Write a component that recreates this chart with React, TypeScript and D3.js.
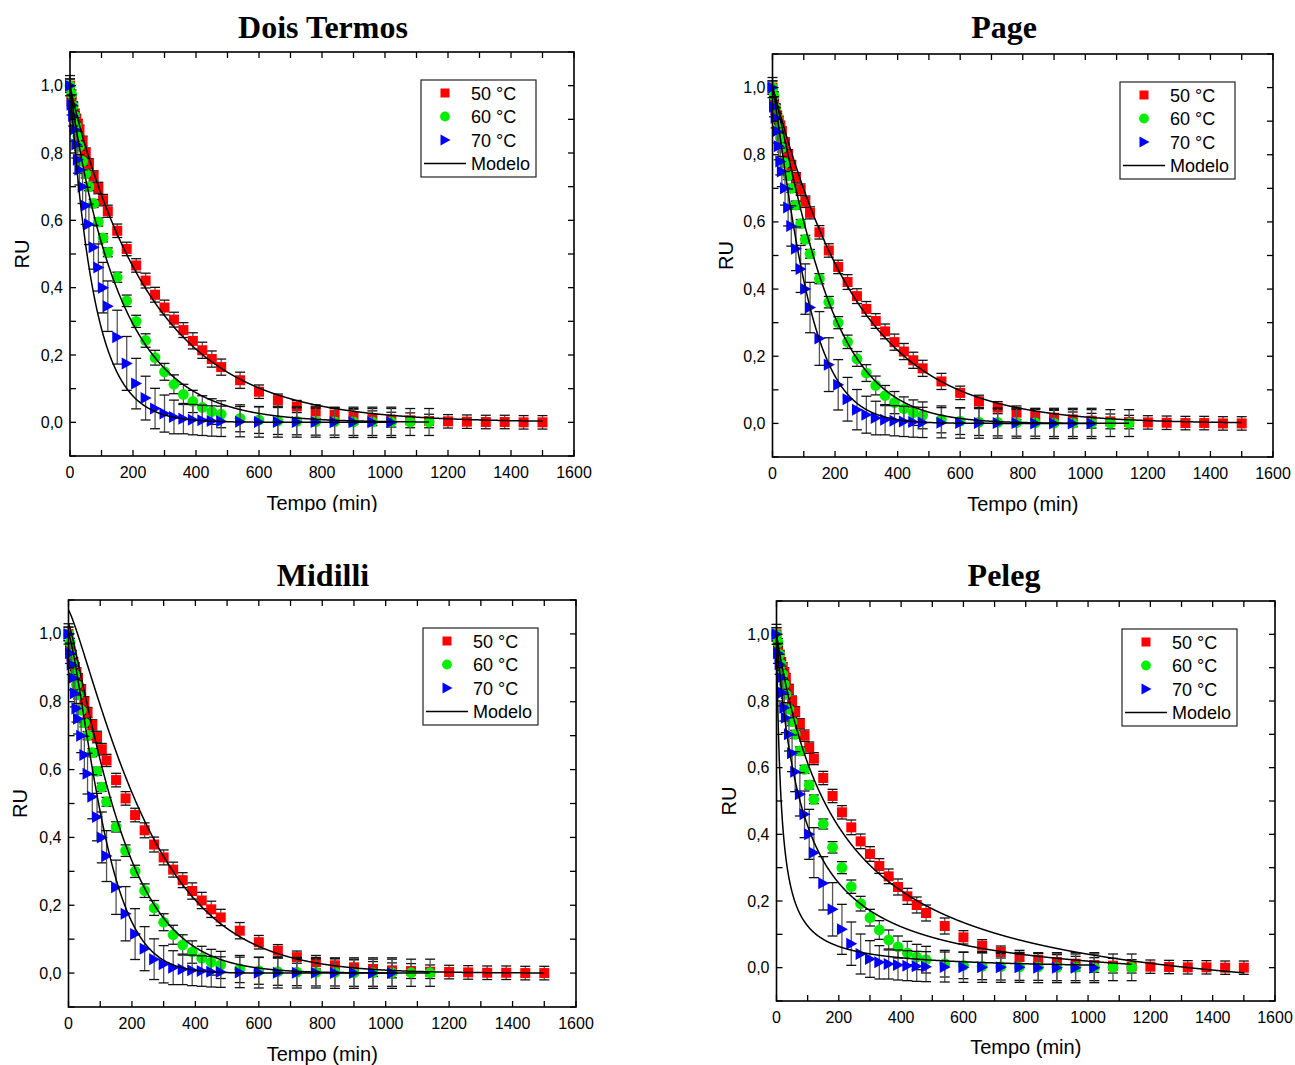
import React from "react";
import * as d3 from "d3";

// ---------- data ----------
const times = [0, 5, 10, 15, 20, 25, 30, 40, 50, 60, 75, 90, 105, 120, 150, 180, 210, 240, 270, 300, 330, 360, 390, 420, 450, 480, 540, 600, 660, 720, 780, 840, 900, 960, 1020, 1080, 1140, 1200, 1260, 1320, 1380, 1440, 1500];

const ru50 = [1.0, 0.955, 0.935, 0.915, 0.9, 0.885, 0.868, 0.835, 0.8, 0.768, 0.732, 0.696, 0.66, 0.627, 0.569, 0.515, 0.466, 0.421, 0.379, 0.341, 0.305, 0.274, 0.242, 0.214, 0.188, 0.164, 0.125, 0.091, 0.066, 0.047, 0.032, 0.023, 0.017, 0.012, 0.008, 0.006, 0.004, 0.003, 0.002, 0.001, 0.001, 0.0, 0.0];
const ru60 = [1.0, 0.975, 0.94, 0.91, 0.88, 0.85, 0.82, 0.775, 0.738, 0.7, 0.65, 0.595, 0.548, 0.505, 0.431, 0.361, 0.3, 0.243, 0.192, 0.15, 0.113, 0.083, 0.062, 0.044, 0.032, 0.024, 0.012, 0.007, 0.004, 0.003, 0.002, 0.002, 0.001, 0.001, 0.001, 0.001, 0.001];
const ru70 = [1.0, 0.943, 0.91, 0.87, 0.825, 0.78, 0.75, 0.7, 0.643, 0.588, 0.52, 0.46, 0.4, 0.345, 0.253, 0.175, 0.115, 0.072, 0.041, 0.026, 0.016, 0.011, 0.008, 0.006, 0.004, 0.003, 0.002, 0.001, 0.001, 0.001, 0.001, 0.0, 0.0, 0.0, 0.0];

const err50 = [0.02, 0.015, 0.015, 0.015, 0.015, 0.015, 0.015, 0.015, 0.015, 0.015, 0.015, 0.017, 0.017, 0.018, 0.02, 0.02, 0.02, 0.022, 0.022, 0.022, 0.022, 0.022, 0.024, 0.024, 0.024, 0.024, 0.024, 0.02, 0.018, 0.018, 0.02, 0.02, 0.022, 0.022, 0.022, 0.022, 0.02, 0.02, 0.02, 0.02, 0.02, 0.02, 0.02];
const err60 = [0.02, 0.012, 0.012, 0.012, 0.012, 0.012, 0.012, 0.012, 0.012, 0.012, 0.012, 0.012, 0.012, 0.013, 0.015, 0.017, 0.018, 0.02, 0.022, 0.025, 0.028, 0.03, 0.033, 0.035, 0.038, 0.04, 0.04, 0.04, 0.04, 0.04, 0.04, 0.04, 0.04, 0.04, 0.04, 0.04, 0.04];
const err70 = [0.03, 0.03, 0.03, 0.035, 0.04, 0.04, 0.045, 0.05, 0.055, 0.06, 0.065, 0.07, 0.075, 0.075, 0.08, 0.08, 0.075, 0.065, 0.06, 0.055, 0.05, 0.045, 0.045, 0.045, 0.045, 0.045, 0.045, 0.045, 0.045, 0.045, 0.045, 0.045, 0.045, 0.045, 0.045];

const seriesLabels = ["50 °C", "60 °C", "70 °C"];
const seriesColors = ["#ff0000", "#00ee00", "#0000ff"];
const modelLabel = "Modelo";

const xTicks = [0, 200, 400, 600, 800, 1000, 1200, 1400, 1600];
const yTicks = [0, 0.2, 0.4, 0.6, 0.8, 1.0];

const panelTitles = ["Dois Termos", "Page", "Midilli", "Peleg"];

// model parameters (one value per temperature: 50, 60, 70 °C)
const dtA = [0.985, 0.97, 0.99];
const dtK0 = [0.00378, 0.006, 0.0127];
const dtB = [0.015, 0.03, 0.01];
const dtK1 = [0.05, 0.05, 0.05];

const pageK = [0.003, 0.00222, 0.0034];
const pageN = [1.04, 1.18, 1.2];

const midA = [1.07, 1.03, 1.0];
const midK = [0.00121, 0.00197, 0.001484];
const midN = [1.2, 1.2, 1.35];
const midB = [0.0, 0.0, 0.0];

const pelK1 = [172, 80, 15];
const pelK2 = [0.87, 0.94, 0.993];

const seriesData = [
  { ru: ru50, err: err50 },
  { ru: ru60, err: err60 },
  { ru: ru70, err: err70 },
];

function model(kind: string, i: number, t: number): number {
  if (kind === "dt") return dtA[i] * Math.exp(-dtK0[i] * t) + dtB[i] * Math.exp(-dtK1[i] * t);
  if (kind === "page") return Math.exp(-pageK[i] * Math.pow(t, pageN[i]));
  if (kind === "mid") return midA[i] * Math.exp(-midK[i] * Math.pow(t, midN[i])) + midB[i] * t;
  return 1 - t / (pelK1[i] + pelK2[i] * t);
}

// ---------- layout ----------
const panels = [
  { kind: "dt", x0: 70, x1: 574, y0: 52, y1: 456, titleX: 323, titleY: 38, xlabY: 510, ylabX: 22, clip: 512 },
  { kind: "page", x0: 772.5, x1: 1273, y0: 54, y1: 457, titleX: 1004, titleY: 38, xlabY: 511, ylabX: 726, clip: 0 },
  { kind: "mid", x0: 68.5, x1: 576, y0: 600, y1: 1007, titleX: 323, titleY: 586, xlabY: 1061, ylabX: 20, clip: 0 },
  { kind: "pel", x0: 776.5, x1: 1275, y0: 601, y1: 1001, titleX: 1004, titleY: 586, xlabY: 1054, ylabX: 729, clip: 0 },
];

const SANS = "'Liberation Sans', Arial, sans-serif";
const SERIF = "'Liberation Serif', 'Times New Roman', serif";

function Marker({ i, x, y, s }: { i: number; x: number; y: number; s: number }) {
  const c = seriesColors[i];
  if (i === 0) return <rect x={x - s / 2} y={y - s / 2} width={s} height={s} fill={c} />;
  if (i === 1) return <circle cx={x} cy={y} r={s / 2 + 0.4} fill={c} />;
  const h = s * 0.6;
  return <path d={`M${x - s / 2},${y - h} L${x + s / 2 + 1},${y} L${x - s / 2},${y + h} Z`} fill={c} />;
}

function Panel({ p, idx }: { p: any; idx: number }) {
  const xs = d3.scaleLinear().domain([0, 1600]).range([p.x0, p.x1]);
  const ys = d3.scaleLinear().domain([-0.1, 1.1]).range([p.y1, p.y0]);
  const fmt = (v: number) => d3.format(".1f")(v).replace(".", ",");
  const xMinor = d3.range(0, 1601, 100);
  const yMinor = d3.range(-0.1, 1.1001, 0.1);
  const tickLen = 6;
  const curves = [0, 1, 2].map((i) => {
    const tMax = times[seriesData[i].ru.length - 1];
    const ts = d3.range(0, tMax + 0.001, 1);
    const gen = d3
      .line<number>()
      .x((t) => xs(t))
      .y((t) => ys(model(p.kind, i, t)));
    return gen(ts) as string;
  });
  const lgX = p.x1 - 38 - 115;
  const lgY = p.y0 + 28;
  const cx = (p.x0 + p.x1) / 2;
  const clipId = `clip${idx}`;
  return (
    <g>
      {p.clip ? (
        <defs>
          <clipPath id={clipId}>
            <rect x={0} y={0} width={1295} height={p.clip} />
          </clipPath>
        </defs>
      ) : null}
      <text x={p.titleX} y={p.titleY} textAnchor="middle" fontFamily={SERIF} fontWeight="bold" fontSize={32}>
        {panelTitles[idx]}
      </text>
      {seriesData.map((s, i) => (
        <g key={i}>
          {s.ru.map((v, j) => {
            const x = xs(times[j]);
            const e = s.err[j];
            return (
              <g key={j}>
                <line x1={x} x2={x} y1={ys(v - e)} y2={ys(v + e)} stroke="#555" strokeWidth={1.3} />
                <line x1={x - 5} x2={x + 5} y1={ys(v - e)} y2={ys(v - e)} stroke="#111" strokeWidth={1.3} />
                <line x1={x - 5} x2={x + 5} y1={ys(v + e)} y2={ys(v + e)} stroke="#111" strokeWidth={1.3} />
              </g>
            );
          })}
          {s.ru.map((v, j) => (
            <Marker key={"m" + j} i={i} x={xs(times[j])} y={ys(v)} s={10} />
          ))}
        </g>
      ))}
      {curves.map((d, i) => (
        <path key={i} d={d} fill="none" stroke="#000" strokeWidth={1.5} />
      ))}
      <rect x={p.x0} y={p.y0} width={p.x1 - p.x0} height={p.y1 - p.y0} fill="none" stroke="#000" strokeWidth={1.6} />
      {xMinor.map((t) => (
        <g key={"xt" + t}>
          <line x1={xs(t)} x2={xs(t)} y1={p.y1} y2={p.y1 - tickLen} stroke="#000" strokeWidth={1.3} />
          <line x1={xs(t)} x2={xs(t)} y1={p.y0} y2={p.y0 + tickLen} stroke="#000" strokeWidth={1.3} />
        </g>
      ))}
      {yMinor.map((v, k) => (
        <g key={"yt" + k}>
          <line x1={p.x0} x2={p.x0 + tickLen} y1={ys(v)} y2={ys(v)} stroke="#000" strokeWidth={1.3} />
          <line x1={p.x1} x2={p.x1 - tickLen} y1={ys(v)} y2={ys(v)} stroke="#000" strokeWidth={1.3} />
        </g>
      ))}
      {xTicks.map((t) => (
        <text key={"xl" + t} x={xs(t)} y={p.y1 + 22} textAnchor="middle" fontFamily={SANS} fontSize={16}>
          {t}
        </text>
      ))}
      {yTicks.map((v) => (
        <text key={"yl" + v} x={p.x0 - 7} y={ys(v) + 5.5} textAnchor="end" fontFamily={SANS} fontSize={16}>
          {fmt(v)}
        </text>
      ))}
      <text
        x={cx}
        y={p.xlabY}
        textAnchor="middle"
        fontFamily={SANS}
        fontSize={20}
        clipPath={p.clip ? `url(#${clipId})` : undefined}
      >
        Tempo (min)
      </text>
      <text
        transform={`translate(${p.ylabX},${(p.y0 + p.y1) / 2}) rotate(-90)`}
        textAnchor="middle"
        dominantBaseline="central"
        fontFamily={SANS}
        fontSize={20}
      >
        RU
      </text>
      <rect x={lgX} y={lgY} width={115} height={97} fill="#fff" stroke="#222" strokeWidth={1.2} />
      {seriesLabels.map((lab, i) => (
        <g key={lab}>
          <Marker i={i} x={lgX + 24} y={lgY + 13 + i * 23.5} s={9} />
          <text x={lgX + 50} y={lgY + 13 + i * 23.5 + 6.5} fontFamily={SANS} fontSize={18}>
            {lab}
          </text>
        </g>
      ))}
      <line x1={lgX + 3} x2={lgX + 45} y1={lgY + 83.5} y2={lgY + 83.5} stroke="#000" strokeWidth={1.5} />
      <text x={lgX + 50} y={lgY + 83.5 + 6.5} fontFamily={SANS} fontSize={18}>
        {modelLabel}
      </text>
    </g>
  );
}

export default function App() {
  return (
    <svg
      width={1295}
      height={1065}
      viewBox="0 0 1295 1065"
      style={{ position: "absolute", left: 0, top: 0, background: "#fff" }}
    >
      <rect x={0} y={0} width={1295} height={1065} fill="#fff" />
      {panels.map((p, idx) => (
        <Panel key={idx} p={p} idx={idx} />
      ))}
    </svg>
  );
}
